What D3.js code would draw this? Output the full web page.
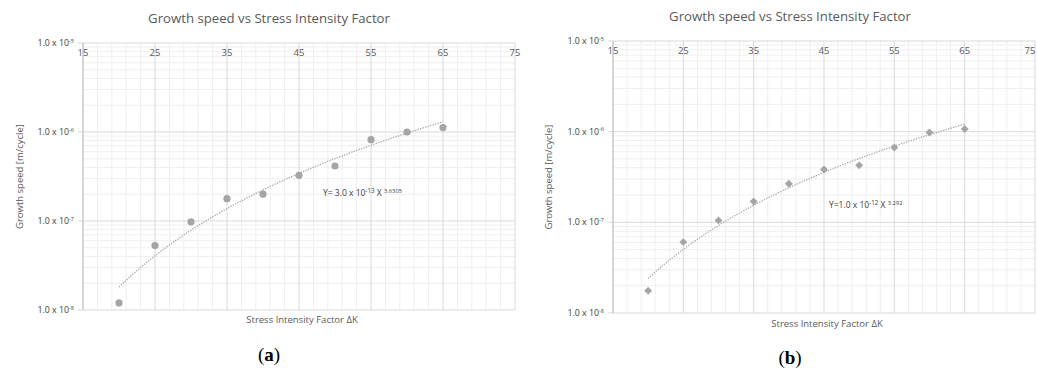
<!DOCTYPE html>
<html><head><meta charset="utf-8">
<script src="https://cdn.jsdelivr.net/npm/d3@7"></script>
<style>body{margin:0;background:#fff}svg{display:block}</style>
</head><body>
<svg id="c" width="1037" height="374"></svg>
<script>
const xValues = [20, 25, 30, 35, 40, 45, 50, 55, 60, 65];
const speedA = [1.2e-8, 5.3e-8, 0.98e-7, 1.78e-7, 2.0e-7, 3.26e-7, 4.15e-7, 8.2e-7, 1.0e-6, 1.12e-6];
const speedB = [1.76e-8, 6.05e-8, 1.05e-7, 1.7e-7, 2.66e-7, 3.82e-7, 4.25e-7, 6.7e-7, 0.98e-6, 1.07e-6];
const xTicks = [15, 25, 35, 45, 55, 65, 75];
const yTicks = [1e-8, 1e-7, 1e-6, 1e-5];
const yTickExp = ["-8", "-7", "-6", "-5"];
const eqA = {coef: "3.0", exp: "-13", pow: "3.6305", prefix: "Y= "};
const eqB = {coef: "1.0", exp: "-12", pow: "3.292", prefix: "Y="};

const svg = d3.select("#c");
const FONT = "'Open Sans', sans-serif";
const GRAY = "#595959";

function panel(cfg) {
  const {x0, x1, top, bottom, data, marker, eq, label, cx, titleY, xTitleY, yTitleX, labelY, eqX, eqY} = cfg;
  const x = d3.scaleLinear().domain([15, 75]).range([x0, x1]);
  const y = d3.scaleLog().domain([1e-8, 1e-5]).range([bottom, top]);
  const g = svg.append("g");
  // minor grid
  const minorX = d3.range(15, 75.01, 2).filter(v => (v - 15) % 10 !== 0);
  g.selectAll(".mx").data(minorX).join("line")
    .attr("x1", d => x(d)).attr("x2", d => x(d)).attr("y1", top).attr("y2", bottom)
    .attr("stroke", "#efefef").attr("stroke-width", 1);
  const minorY = [];
  [1e-8, 1e-7, 1e-6].forEach(dec => { for (let k = 2; k <= 9; k++) minorY.push(dec * k); });
  g.selectAll(".my").data(minorY).join("line")
    .attr("x1", x0).attr("x2", x1).attr("y1", d => y(d)).attr("y2", d => y(d))
    .attr("stroke", "#efefef").attr("stroke-width", 1);
  // major grid
  g.selectAll(".Mx").data(xTicks).join("line")
    .attr("x1", d => x(d)).attr("x2", d => x(d)).attr("y1", top).attr("y2", bottom)
    .attr("stroke", "#d9d9d9").attr("stroke-width", 1);
  g.selectAll(".My").data(yTicks).join("line")
    .attr("x1", x0 - 5).attr("x2", x1).attr("y1", d => y(d)).attr("y2", d => y(d))
    .attr("stroke", "#d9d9d9").attr("stroke-width", 1);
  // axis line
  g.append("line").attr("x1", x0).attr("x2", x0).attr("y1", top).attr("y2", bottom)
    .attr("stroke", "#bfbfbf");
  // x tick labels at top
  g.selectAll(".xl").data(xTicks).join("text")
    .attr("x", d => Math.min(x(d), 1030)).attr("y", top + 13)
    .attr("text-anchor", "middle").attr("font-family", FONT).attr("font-size", 9.5)
    .attr("fill", GRAY).text(d => d);
  // y tick labels
  const yl = g.selectAll(".yl").data(yTicks).join("text")
    .attr("x", x0 - 9).attr("y", d => y(d) + 3)
    .attr("text-anchor", "end").attr("font-family", FONT).attr("font-size", 8.8)
    .attr("fill", "#404040");
  yl.append("tspan").text("1.0 x 10");
  yl.append("tspan").attr("font-size", 5.5).attr("dy", -3.5).text((d, i) => yTickExp[i]);
  // trend line: power fit (least squares on ln x, ln y) of the data
  const lx = xValues.map(Math.log), ly = data.map(Math.log);
  const mx = d3.mean(lx), my = d3.mean(ly);
  const b = d3.sum(lx.map((v, i) => (v - mx) * (ly[i] - my))) / d3.sum(lx.map(v => (v - mx) ** 2));
  const a = Math.exp(my - b * mx);
  const xs = d3.range(xValues[0], xValues[xValues.length - 1] + 0.01, 0.5);
  g.append("path").datum(xs)
    .attr("d", d3.line().x(d => x(d)).y(d => y(a * Math.pow(d, b))))
    .attr("fill", "none").attr("stroke", "#a6a6a6").attr("stroke-width", 1.3)
    .attr("stroke-dasharray", "1.3 1.3");
  // markers
  if (marker === "circle") {
    g.selectAll(".pt").data(xValues).join("circle")
      .attr("cx", d => x(d)).attr("cy", (d, i) => y(data[i])).attr("r", 3.6)
      .attr("fill", "#a5a5a5");
  } else {
    g.selectAll(".pt").data(xValues).join("path")
      .attr("transform", (d, i) => `translate(${x(d)},${y(data[i])})`)
      .attr("d", d3.symbol(d3.symbolDiamond2, 40)())
      .attr("fill", "#a5a5a5");
  }
  // equation
  const t = g.append("text").attr("x", eqX).attr("y", eqY)
    .attr("font-family", FONT).attr("font-size", 8.5).attr("fill", "#404040");
  t.append("tspan").text(eq.prefix + eq.coef + " x 10");
  t.append("tspan").attr("font-size", 6.3).attr("dy", -3).text(eq.exp);
  t.append("tspan").attr("dy", 3).text(" X ");
  t.append("tspan").attr("font-size", 5.8).attr("dy", -3).text(eq.pow);
  // titles
  g.append("text").attr("x", cx).attr("y", titleY).attr("text-anchor", "middle")
    .attr("font-family", FONT).attr("font-size", 13.2).attr("fill", GRAY)
    .text("Growth speed vs Stress Intensity Factor");
  g.append("text").attr("x", (x0 + x1) / 2 + 3).attr("y", xTitleY).attr("text-anchor", "middle")
    .attr("font-family", FONT).attr("font-size", 9.5).attr("fill", GRAY)
    .text("Stress Intensity Factor ΔK");
  g.append("text").attr("transform", `translate(${yTitleX},${(top + bottom) / 2}) rotate(-90)`)
    .attr("text-anchor", "middle").attr("font-family", FONT).attr("font-size", 9.5)
    .attr("fill", GRAY).text("Growth speed [m/cycle]");
  g.append("text").attr("x", cx).attr("y", labelY).attr("text-anchor", "middle")
    .attr("font-family", "'Liberation Serif', serif").attr("font-size", 19)
    .attr("fill", "#000").html(`(<tspan font-weight="bold">${label}</tspan>)`);
}

panel({x0: 83, x1: 515, top: 43, bottom: 310, data: speedA, marker: "circle", eq: eqA, label: "a",
  cx: 269, titleY: 23, xTitleY: 323, yTitleX: 23, labelY: 361, eqX: 323, eqY: 196});
panel({x0: 613, x1: 1035, top: 41, bottom: 313, data: speedB, marker: "diamond", eq: eqB, label: "b",
  cx: 790, titleY: 21, xTitleY: 327, yTitleX: 552, labelY: 364, eqX: 829, eqY: 208});
</script>
</body></html>
